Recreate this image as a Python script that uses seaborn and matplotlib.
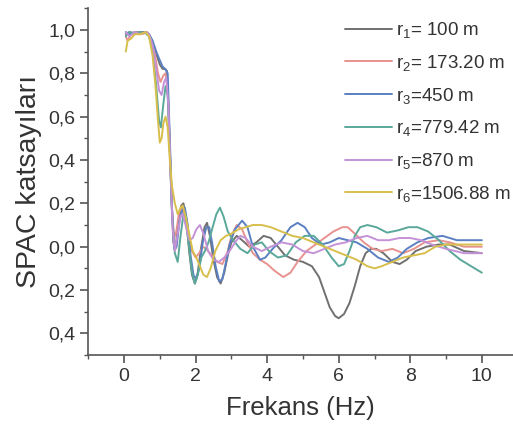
import matplotlib
matplotlib.use("Agg")
import matplotlib.pyplot as plt
from matplotlib.ticker import FuncFormatter, MultipleLocator
import pandas as pd
import seaborn as sns

# frekans (Hz) / SPAC katsayisi, egrilerden okunan degerler
F1 = [0.05, 0.15, 0.3, 0.45, 0.6, 0.7, 0.8, 0.9, 1.0, 1.08, 1.15, 1.2, 1.26, 1.32, 1.38, 1.44,
      1.52, 1.6, 1.66, 1.74, 1.82, 1.9, 1.98, 2.06, 2.15, 2.25, 2.32, 2.4, 2.5, 2.6, 2.7, 2.8,
      2.9, 3.0, 3.15, 3.3, 3.5, 3.7, 3.9, 4.1, 4.3, 4.5, 4.75, 5.0, 5.25, 5.45, 5.6, 5.75, 5.9,
      6.0, 6.15, 6.3, 6.45, 6.6, 6.75, 6.9, 7.05, 7.25, 7.5, 7.7, 7.9, 8.15, 8.45, 8.8, 9.1,
      9.5, 10.0]
R1 = [0.98, 0.99, 0.985, 0.99, 0.99, 0.98, 0.94, 0.89, 0.84, 0.82, 0.82, 0.81, 0.55, 0.25, 0.02,
      -0.01, 0.12, 0.19, 0.20, 0.13, -0.02, -0.13, -0.17, -0.12, -0.01, 0.09, 0.11, 0.05, -0.06,
      -0.14, -0.17, -0.12, -0.04, 0.02, 0.05, 0.03, 0.0, 0.02, 0.05, 0.04, 0.0, -0.04, -0.06,
      -0.07, -0.09, -0.14, -0.21, -0.28, -0.32, -0.33, -0.31, -0.26, -0.18, -0.09, -0.03, -0.01,
      -0.01, -0.03, -0.07, -0.08, -0.06, -0.02, 0.0, 0.01, 0.01, -0.02, -0.03]

F2 = [0.05, 0.1, 0.2, 0.35, 0.5, 0.65, 0.75, 0.85, 0.95, 1.02, 1.1, 1.16, 1.22, 1.28, 1.34, 1.4,
      1.46, 1.54, 1.62, 1.7, 1.8, 1.9, 2.0, 2.1, 2.2, 2.3, 2.45, 2.6, 2.75, 2.9, 3.0, 3.15, 3.3,
      3.45, 3.6, 3.8, 4.0, 4.2, 4.45, 4.65, 4.85, 5.1, 5.35, 5.6, 5.85, 6.1, 6.25, 6.45, 6.7,
      6.95, 7.2, 7.5, 7.8, 8.1, 8.4, 8.8, 9.1, 9.5, 10.0]
R2 = [0.97, 0.95, 0.98, 0.99, 0.98, 0.99, 0.96, 0.90, 0.80, 0.76, 0.79, 0.80, 0.74, 0.45, 0.18,
      0.04, 0.07, 0.16, 0.18, 0.14, 0.06, -0.02, -0.05, -0.03, 0.0, -0.01, -0.04, -0.07, -0.08,
      -0.02, 0.05, 0.10, 0.08, 0.02, -0.03, -0.06, -0.08, -0.11, -0.14, -0.12, -0.07, -0.02,
      0.01, 0.04, 0.07, 0.09, 0.09, 0.06, 0.02, -0.01, -0.02, -0.01, -0.03, -0.01, 0.02, 0.03,
      0.02, 0.0, 0.0]

F3 = [0.05, 0.15, 0.3, 0.45, 0.6, 0.7, 0.8, 0.9, 1.0, 1.08, 1.15, 1.22, 1.28, 1.34, 1.4, 1.47,
      1.55, 1.63, 1.7, 1.78, 1.86, 1.94, 2.02, 2.1, 2.2, 2.3, 2.38, 2.46, 2.56, 2.66, 2.75, 2.85,
      2.95, 3.1, 3.3, 3.45, 3.6, 3.8, 3.95, 4.15, 4.4, 4.65, 4.85, 5.05, 5.25, 5.5, 5.75, 6.0,
      6.25, 6.5, 6.8, 7.1, 7.4, 7.65, 7.9, 8.2, 8.5, 8.9, 9.3, 9.7, 10.0]
R3 = [0.99, 0.98, 0.99, 0.985, 0.99, 0.98, 0.95, 0.90, 0.86, 0.83, 0.82, 0.80, 0.50, 0.18, -0.01,
      0.0, 0.12, 0.17, 0.18, 0.10, -0.04, -0.13, -0.15, -0.10, 0.02, 0.09, 0.09, 0.02, -0.09,
      -0.16, -0.15, -0.07, 0.01, 0.08, 0.12, 0.09, 0.0, -0.06, -0.05, -0.01, 0.03, 0.09, 0.11,
      0.09, 0.04, 0.01, 0.02, 0.04, 0.03, 0.02, -0.01, -0.05, -0.07, -0.05, -0.01, 0.02, 0.04,
      0.05, 0.03, 0.03, 0.03]

F4 = [0.05, 0.15, 0.3, 0.45, 0.6, 0.7, 0.8, 0.9, 0.98, 1.03, 1.1, 1.16, 1.22, 1.28, 1.34, 1.42,
      1.5, 1.58, 1.66, 1.72, 1.8, 1.9, 1.98, 2.06, 2.16, 2.26, 2.36, 2.46, 2.58, 2.68, 2.78, 2.9,
      3.05, 3.25, 3.45, 3.65, 3.85, 4.05, 4.3, 4.55, 4.8, 5.05, 5.3, 5.55, 5.8, 6.0, 6.15, 6.3,
      6.45, 6.6, 6.8, 7.05, 7.35, 7.65, 7.95, 8.2, 8.5, 8.8, 9.1, 9.4, 9.7, 10.0]
R4 = [0.97, 0.99, 0.98, 0.99, 0.985, 0.97, 0.90, 0.74, 0.58, 0.55, 0.66, 0.74, 0.70, 0.45, 0.15,
      -0.03, -0.07, 0.05, 0.15, 0.14, 0.02, -0.12, -0.17, -0.13, -0.05, -0.02, 0.02, 0.08, 0.15,
      0.18, 0.14, 0.07, 0.03, -0.01, -0.03, 0.01, 0.02, -0.02, -0.05, -0.04, 0.02, 0.05, 0.05,
      0.01, -0.05, -0.09, -0.08, -0.02, 0.05, 0.09, 0.10, 0.09, 0.065, 0.075, 0.09, 0.09, 0.07,
      0.03, -0.02, -0.06, -0.09, -0.12]

F5 = [0.05, 0.15, 0.3, 0.45, 0.6, 0.7, 0.8, 0.9, 0.98, 1.05, 1.12, 1.18, 1.24, 1.3, 1.36, 1.42,
      1.5, 1.58, 1.64, 1.72, 1.82, 1.92, 2.02, 2.12, 2.22, 2.35, 2.5, 2.65, 2.8, 2.95, 3.1, 3.25,
      3.4, 3.6, 3.85, 4.1, 4.4, 4.7, 5.0, 5.3, 5.6, 5.9, 6.2, 6.5, 6.8, 7.1, 7.4, 7.7, 8.0, 8.3,
      8.6, 9.0, 9.5, 10.0]
R5 = [0.99, 0.97, 0.99, 0.98, 0.99, 0.98, 0.93, 0.82, 0.72, 0.70, 0.76, 0.78, 0.65, 0.35, 0.08,
      -0.02, 0.06, 0.14, 0.15, 0.10, 0.03, 0.04, 0.08, 0.10, 0.06, -0.02, -0.06, -0.07, -0.05,
      -0.02, 0.02, 0.05, 0.04, 0.0, -0.02, 0.0, 0.02, 0.01, -0.02, -0.03, -0.01, 0.01, 0.02,
      0.04, 0.05, 0.03, 0.03, 0.04, 0.04, 0.03, 0.01, -0.01, -0.03, -0.03]

F6 = [0.05, 0.1, 0.2, 0.3, 0.45, 0.6, 0.7, 0.8, 0.88, 0.95, 1.0, 1.05, 1.1, 1.16, 1.22, 1.28,
      1.34, 1.42, 1.5, 1.58, 1.64, 1.72, 1.82, 1.92, 2.02, 2.12, 2.22, 2.32, 2.42, 2.55, 2.7,
      2.85, 3.0, 3.2, 3.4, 3.6, 3.85, 4.1, 4.4, 4.7, 5.0, 5.3, 5.6, 5.9, 6.2, 6.5, 6.8, 7.0,
      7.2, 7.5, 7.8, 8.1, 8.4, 8.7, 9.0, 9.5, 10.0]
R6 = [0.90, 0.95, 0.96, 0.98, 0.98, 0.99, 0.97, 0.88, 0.74, 0.58, 0.48, 0.50, 0.57, 0.60, 0.55,
      0.40, 0.28, 0.20, 0.15, 0.18, 0.19, 0.14, 0.06, -0.02, -0.05, -0.09, -0.13, -0.14, -0.10,
      -0.02, 0.03, 0.05, 0.06, 0.08, 0.09, 0.10, 0.10, 0.09, 0.07, 0.05, 0.04, 0.02, 0.0, -0.02,
      -0.04, -0.06, -0.09, -0.10, -0.09, -0.07, -0.05, -0.04, -0.03, 0.0, 0.01, 0.01, 0.01]

LABELS = [r"r$_1$= 100 m", r"r$_2$= 173.20 m", r"r$_3$=450 m",
          r"r$_4$=779.42 m", r"r$_5$=870 m", r"r$_6$=1506.88 m"]
COLORS = ["#707070", "#e8928f", "#5b80c2", "#5aa89a", "#c592d8", "#d8bf4c"]

sns.set_theme(style="ticks")
plt.rcParams["font.family"] = ["Liberation Sans", "DejaVu Sans"]
plt.rcParams["mathtext.fontset"] = "custom"
plt.rcParams["mathtext.rm"] = "Liberation Sans"
plt.rcParams["mathtext.it"] = "Liberation Sans"

frames = []
for lab, f, r in zip(LABELS, [F1, F2, F3, F4, F5, F6], [R1, R2, R3, R4, R5, R6]):
    frames.append(pd.DataFrame({"frekans": f, "spac": r, "seri": lab}))
df = pd.concat(frames, ignore_index=True)

fig = plt.figure(figsize=(5.13, 4.32), dpi=100)
ax = fig.add_axes([0.172, 0.178, 0.828, 0.803])
sns.lineplot(data=df, x="frekans", y="spac", hue="seri", palette=COLORS,
             estimator=None, sort=False, lw=1.4, ax=ax)

ax.set_xlim(-1, 10.87)
ax.set_ylim(-0.5, 1.1)
ax.xaxis.set_major_locator(MultipleLocator(2))
ax.xaxis.set_minor_locator(MultipleLocator(1))
ax.yaxis.set_major_locator(MultipleLocator(0.2))
ax.yaxis.set_minor_locator(MultipleLocator(0.1))
ax.yaxis.set_major_formatter(FuncFormatter(lambda v, p: f"{abs(v):.1f}".replace(".", ",")))

txt = "#333333"
for side in ["top", "right"]:
    ax.spines[side].set_visible(False)
for side in ["left", "bottom"]:
    ax.spines[side].set_color("#555555")
    ax.spines[side].set_linewidth(1.2)
ax.tick_params(which="major", direction="out", length=6, width=1.2, color="#555555",
               labelsize=14, labelcolor=txt)
ax.tick_params(which="minor", direction="out", length=3, width=1.0, color="#555555")

ax.set_xlabel("Frekans (Hz)", fontsize=18.5, color=txt, labelpad=8)
ax.set_ylabel("SPAC katsayıları", fontsize=20.5, color=txt, labelpad=4)

ax.legend(loc="upper right", bbox_to_anchor=(1.012, 0.987), frameon=False, fontsize=13.5,
          handlelength=2.5, handletextpad=0.2, labelspacing=0.68, borderaxespad=0.0,
          labelcolor=txt)

fig.savefig("out.png", dpi=100)
